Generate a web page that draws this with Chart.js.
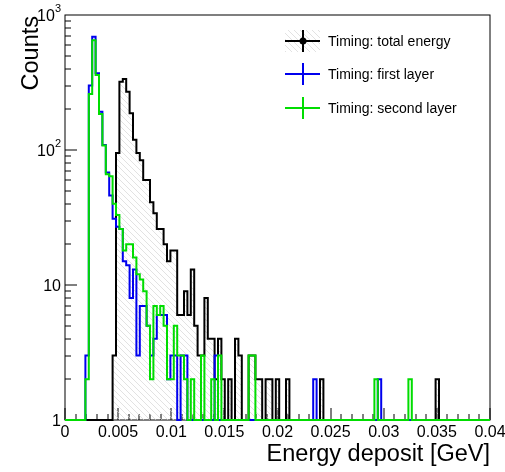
<!DOCTYPE html>
<html>
<head>
<meta charset="utf-8">
<script src="https://cdn.jsdelivr.net/npm/chart.js@4.4.1/dist/chart.umd.min.js"></script>
<style>
  html, body { margin: 0; padding: 0; background: #fff; }
  #wrap { width: 505px; height: 472px; }
</style>
</head>
<body>
<div id="wrap"><canvas id="chartCanvas" width="505" height="472"></canvas></div>
<script>
// binning of the energy histograms (GeV)
const nBins = 125;
const xMin = 0;
const xMax = 0.04;

// counts per bin
const totalEnergy = [
  0, 0, 0, 0, 0, 0, 0, 0, 0, 0, 0, 0, 0, 0, 3, 95, 320, 335, 270, 187, 119, 95, 84, 60, 60,
  41, 34, 26, 26, 20, 15, 18, 18, 6, 6, 9, 6, 13, 5, 3, 3, 8, 4, 4, 2, 4, 2, 1, 2, 1,
  4, 3, 1, 1, 3, 3, 2, 2, 1, 2, 2, 1, 2, 1, 1, 2, 0, 1, 0, 1, 0, 0, 1, 1, 0,
  2, 0, 0, 0, 0, 0, 0, 0, 0, 0, 0, 0, 0, 0, 0, 0, 1, 1, 0, 0, 0, 0, 0, 0, 0,
  0, 1, 0, 0, 0, 0, 0, 0, 0, 2, 0, 0, 0, 0, 0, 0, 0, 0, 0, 0, 0, 0, 0, 0, 0
];
const firstLayer = [
  0, 0, 0, 0, 0, 0, 3, 300, 690, 370, 192, 109, 68, 46, 31, 27, 26, 15, 14, 8, 13, 3, 7, 7, 5,
  3, 4, 6, 6, 6, 2, 3, 3, 1, 3, 3, 1, 1, 0, 1, 1, 1, 0, 1, 3, 1, 0, 0, 0, 0,
  0, 0, 0, 0, 0, 0, 0, 0, 0, 0, 0, 0, 0, 0, 0, 0, 0, 0, 0, 0, 0, 0, 0, 2, 0,
  0, 0, 0, 0, 0, 0, 0, 0, 0, 0, 0, 0, 0, 0, 0, 0, 0, 2, 0, 0, 0, 0, 0, 0, 0,
  0, 0, 0, 0, 0, 0, 0, 0, 0, 0, 0, 0, 0, 0, 0, 0, 0, 0, 0, 0, 0, 0, 0, 0, 0
];
const secondLayer = [
  0, 0, 0, 0, 0, 0, 2, 260, 650, 360, 185, 108, 66, 64, 40, 33, 26, 18, 20, 20, 16, 12, 11, 9, 5,
  2, 7, 6, 7, 5, 2, 2, 5, 3, 3, 2, 1, 2, 1, 1, 3, 1, 1, 2, 1, 3, 1, 0, 0, 0,
  0, 0, 0, 0, 3, 3, 0, 0, 0, 0, 0, 0, 0, 0, 0, 0, 0, 0, 0, 0, 0, 0, 0, 0, 0,
  0, 0, 0, 0, 0, 0, 0, 0, 0, 0, 0, 0, 0, 0, 0, 0, 2, 0, 0, 0, 0, 0, 0, 0, 0,
  0, 2, 0, 0, 0, 0, 0, 0, 0, 0, 0, 0, 0, 0, 0, 0, 0, 0, 0, 0, 0, 0, 0, 0, 0
];

const xTickValues = [0, 0.005, 0.01, 0.015, 0.02, 0.025, 0.03, 0.035, 0.04];
const xTickLabels = ['0', '0.005', '0.01', '0.015', '0.02', '0.025', '0.03', '0.035', '0.04'];
const yTickValues = [1, 10, 100, 1000];
const yTickLabels = [['1', ''], ['10', ''], ['10', '2'], ['10', '3']];
const legendLabels = ['Timing: total energy', 'Timing: first layer', 'Timing: second layer'];
const seriesColors = ['#000000', '#0000ee', '#00dd00'];

const FONT = '"Liberation Sans", Arial, Helvetica, sans-serif';
const binWidth = (xMax - xMin) / nBins;

// left bin edges plus the closing edge, empty bins sit on the log floor (1)
function toSteps(counts) {
  const pts = counts.map((c, i) => ({ x: xMin + i * binWidth, y: Math.max(c, 1) }));
  pts.push({ x: xMax, y: Math.max(counts[counts.length - 1], 1) });
  return pts;
}

// light "\\\" hatching like ROOT fill style 3005
function makeHatch() {
  const s = 6;
  const c = document.createElement('canvas');
  c.width = s; c.height = s;
  const g = c.getContext('2d');
  g.strokeStyle = '#d6d6d6';
  g.lineWidth = 0.7;
  g.beginPath();
  g.moveTo(-1, -1); g.lineTo(s + 1, s + 1);
  g.moveTo(-1, s - 1); g.lineTo(1, s + 1);
  g.moveTo(s - 1, -1); g.lineTo(s + 1, 1);
  g.stroke();
  return document.getElementById('chartCanvas').getContext('2d').createPattern(c, 'repeat');
}
const hatch = makeHatch();

const rootFrame = {
  id: 'rootFrame',
  beforeDatasetsDraw(chart) {
    const { ctx, chartArea: a, scales: { x, y } } = chart;
    ctx.save();
    ctx.strokeStyle = '#000';
    ctx.lineWidth = 1;
    ctx.strokeRect(a.left, a.top, a.right - a.left, a.bottom - a.top);
    ctx.beginPath();
    // x ticks every 0.001, longer every 0.005
    for (let i = 0; i <= 40; i++) {
      const px = Math.round(x.getPixelForValue(i / 1000));
      const len = i % 5 === 0 ? 12 : 6;
      ctx.moveTo(px, a.bottom);
      ctx.lineTo(px, a.bottom - len);
    }
    // log y ticks
    for (let d = 0; d < 3; d++) {
      for (let m = 1; m <= 9; m++) {
        const py = Math.round(y.getPixelForValue(m * Math.pow(10, d)));
        const len = m === 1 ? 12 : 6;
        ctx.moveTo(a.left, py);
        ctx.lineTo(a.left + len, py);
      }
    }
    ctx.stroke();
    ctx.restore();
  },
  afterDraw(chart) {
    const { ctx, chartArea: a, scales: { x, y } } = chart;
    ctx.save();
    ctx.fillStyle = '#000';

    // x tick labels
    ctx.font = '16px ' + FONT;
    ctx.textAlign = 'center';
    ctx.textBaseline = 'alphabetic';
    xTickValues.forEach((v, i) => {
      ctx.fillText(xTickLabels[i], x.getPixelForValue(v), 437);
    });

    // y tick labels, powers drawn as superscripts
    ctx.textAlign = 'right';
    yTickValues.forEach((v, i) => {
      const py = y.getPixelForValue(v);
      const [base, pow] = yTickLabels[i];
      let right = 61;
      if (pow) {
        ctx.font = '11px ' + FONT;
        ctx.fillText(pow, right, py - 3);
        right -= ctx.measureText(pow).width;
      }
      ctx.font = '16px ' + FONT;
      ctx.fillText(base, right, py + 6);
    });

    // axis titles
    ctx.font = '23.5px ' + FONT;
    ctx.textAlign = 'right';
    ctx.fillText('Energy deposit [GeV]', a.right, 461);
    ctx.save();
    ctx.translate(38, a.top + 1);
    ctx.rotate(-Math.PI / 2);
    ctx.fillText('Counts', 0, 0);
    ctx.restore();

    // legend
    const rows = [41, 74, 108];
    const x0 = 285, x1 = 320, xm = 303;
    ctx.fillStyle = hatch;
    ctx.fillRect(x0, rows[0] - 11, x1 - x0, 22);
    rows.forEach((ry, i) => {
      ctx.strokeStyle = seriesColors[i];
      ctx.lineWidth = 2;
      ctx.beginPath();
      ctx.moveTo(x0, ry); ctx.lineTo(x1, ry);
      ctx.moveTo(xm, ry - 11); ctx.lineTo(xm, ry + 11);
      ctx.stroke();
      if (i === 0) {
        ctx.fillStyle = '#000';
        ctx.beginPath();
        ctx.arc(xm, ry, 3.5, 0, Math.PI * 2);
        ctx.fill();
      }
      ctx.fillStyle = '#000';
      ctx.font = '14px ' + FONT;
      ctx.textAlign = 'left';
      ctx.fillText(legendLabels[i], 328, ry + 5);
    });
    ctx.restore();
  }
};

const ctx = document.getElementById('chartCanvas');
const myChart = new Chart(ctx, {
  type: 'line',
  data: {
    datasets: [
      {
        label: legendLabels[2],
        data: toSteps(secondLayer),
        borderColor: seriesColors[2],
        borderWidth: 2,
        stepped: true,
        fill: false,
        pointRadius: 0,
        order: 0,
        clip: 4
      },
      {
        label: legendLabels[1],
        data: toSteps(firstLayer),
        borderColor: seriesColors[1],
        borderWidth: 2,
        stepped: true,
        fill: false,
        pointRadius: 0,
        order: 1,
        clip: 4
      },
      {
        label: legendLabels[0],
        data: toSteps(totalEnergy),
        borderColor: seriesColors[0],
        backgroundColor: hatch,
        borderWidth: 2,
        stepped: true,
        fill: 'start',
        pointRadius: 0,
        order: 2,
        clip: 4
      }
    ]
  },
  options: {
    responsive: false,
    animation: false,
    devicePixelRatio: 1,
    events: [],
    layout: { padding: { left: 65, right: 15, top: 15, bottom: 52 } },
    scales: {
      x: { type: 'linear', min: xMin, max: xMax, display: false },
      y: { type: 'logarithmic', min: 1, max: 1000, display: false }
    },
    plugins: {
      legend: { display: false },
      tooltip: { enabled: false }
    }
  },
  plugins: [rootFrame]
});
</script>
</body>
</html>
